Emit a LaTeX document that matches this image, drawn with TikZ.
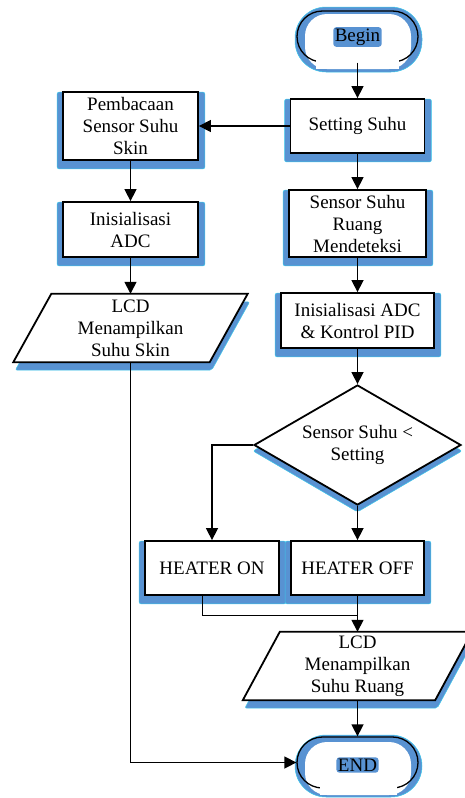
\documentclass[tikz,border=0pt]{standalone}
\usepackage{fontspec}
\setmainfont{Liberation Serif}
\usetikzlibrary{shapes.geometric,arrows.meta}
\pgfdeclarelayer{bg}
\pgfsetlayers{bg,main}
\definecolor{sblue}{RGB}{88,146,210}
\definecolor{sedge}{RGB}{60,200,235}
\newcommand\boxshadow[1]{\fill[sh] ([shift={(-5,1)}]#1.north west) rectangle ([shift={(6,8)}]#1.south east);}
\newcommand\paragram[3]{%
  \fill[sh] ([shift={(#2+2,8)}]#1.north west) -- ([shift={(#2+2,8)}]#1.north east) -- ([shift={(-#2+2,8)}]#1.south east) -- ([shift={(-#2+2,8)}]#1.south west) -- cycle;
  \draw[line width=1.8pt, fill=white] ([shift={(#2,0)}]#1.north west) -- ([shift={(#2,0)}]#1.north east) -- ([shift={(-#2,0)}]#1.south east) -- ([shift={(-#2,0)}]#1.south west) -- cycle;}
\begin{document}
\begin{tikzpicture}[x=1pt,y=-1pt,
  txt/.style={font=\fontsize{19}{22}\selectfont, align=center, text=black},
  box/.style={txt, draw=black, line width=1.8pt, fill=white, inner sep=0pt},
  sh/.style={fill=sblue, draw=sedge, line width=0.5pt, rounded corners=2pt},
  arr/.style={line width=1.5pt, -{Triangle[length=12pt,width=12pt]}},
  thin/.style={line width=1pt},
  stad/.style={draw=black, line width=1.3pt, rounded corners=25.5pt, minimum width=121pt, minimum height=51pt, inner sep=0pt},
  lab/.style={txt, fill=sblue, inner sep=1.5pt, rounded corners=3pt},
]
\useasboundingbox (0,0) rectangle (465,798);

% ---------- Begin terminal ----------
\begin{pgfonlayer}{bg}
\fill[sblue, draw=sedge, line width=0.5pt, rounded corners=31pt] (295,7) rectangle (422,72);
\fill[white, rounded corners=22pt] (305,14) rectangle (411,69);
\end{pgfonlayer}
\node[stad] (begin) at (357.5,36.5) {};
\fill[white] (316,50) rectangle (399,69);
\node[lab] (begintxt) at (357.5,37) {Begin};

% ---------- right column ----------
\node[box, minimum width=134pt, minimum height=54pt] (setting) at (357.5,126) {Setting Suhu};
\node[box, minimum width=137pt, minimum height=67pt] (sensor) at (357.5,223.5) {Sensor Suhu\\Ruang\\Mendeteksi};
\node[box, minimum width=153pt, minimum height=55pt] (pid) at (357.5,320.5) {Inisialisasi ADC\\\& Kontrol PID};
\node[txt, diamond, draw=black, line width=1.8pt, fill=white, inner sep=0pt, aspect=1.725,
      minimum width=207pt, minimum height=120pt] (dec) at (357.5,445) {Sensor Suhu <\\Setting};
\node[box, minimum width=134pt, minimum height=54pt] (hon) at (212,568) {HEATER ON};
\node[box, minimum width=133pt, minimum height=54pt] (hoff) at (357.5,568) {HEATER OFF};
\node[txt, minimum width=192pt, minimum height=68pt, inner sep=0pt] (lcdR) at (357.5,666) {LCD\\Menampilkan\\Suhu Ruang};

% ---------- left column ----------
\node[box, minimum width=135pt, minimum height=68pt] (pemb) at (130.5,126) {Pembacaan\\Sensor Suhu\\Skin};
\node[box, minimum width=135pt, minimum height=55pt] (adcL) at (130.5,229.5) {Inisialisasi\\ADC};
\node[txt, minimum width=196pt, minimum height=68pt, inner sep=0pt] (lcdL) at (130.5,328) {LCD\\Menampilkan\\Suhu Skin};

% ---------- END terminal ----------
\begin{pgfonlayer}{bg}
\fill[sblue, draw=sedge, line width=0.5pt, rounded corners=31pt] (295,735) rectangle (422,797);
\fill[white, rounded corners=22pt] (305,742) rectangle (411,795);
\end{pgfonlayer}
\node[stad] (end) at (357.5,762.5) {};
\fill[white] (320,776) rectangle (397,795);
\node[lab] (endtxt) at (357.5,765) {END};

% ---------- shadows & parallelograms ----------
\begin{pgfonlayer}{bg}
\boxshadow{setting}
\boxshadow{sensor}
\boxshadow{pid}
\boxshadow{hon}
\boxshadow{hoff}
\boxshadow{pemb}
\boxshadow{adcL}
\fill[sh] ([shift={(0,6)}]dec.north) -- ([shift={(0,6)}]dec.east) -- ([shift={(0,6)}]dec.south) -- ([shift={(0,6)}]dec.west) -- cycle;
\paragram{lcdL}{19}{}
\paragram{lcdR}{18.5}{}
\end{pgfonlayer}

% ---------- connectors ----------
\coordinate (j) at (357.5,615);
\draw[arr] (begin.south) -- (setting.north);
\draw[arr] (setting.west) -- (pemb.east);
\draw[arr] (pemb.south) -- (adcL.north);
\draw[arr] (adcL.south) -- (lcdL.north);
\draw[arr] (lcdL.south) |- (end.west);
\draw[arr] (setting.south) -- (sensor.north);
\draw[arr] (sensor.south) -- (pid.north);
\draw[arr] (pid.south) -- (dec.north);
\draw[arr] (dec.west) -| (hon.north);
\draw[arr] (dec.south) -- (hoff.north);
\draw[thin] ([xshift=-10pt]hon.south) |- (j);
\draw[arr] (hoff.south) -- (lcdR.north);
\draw[arr] (lcdR.south) -- (end.north);
\end{tikzpicture}
\end{document}
